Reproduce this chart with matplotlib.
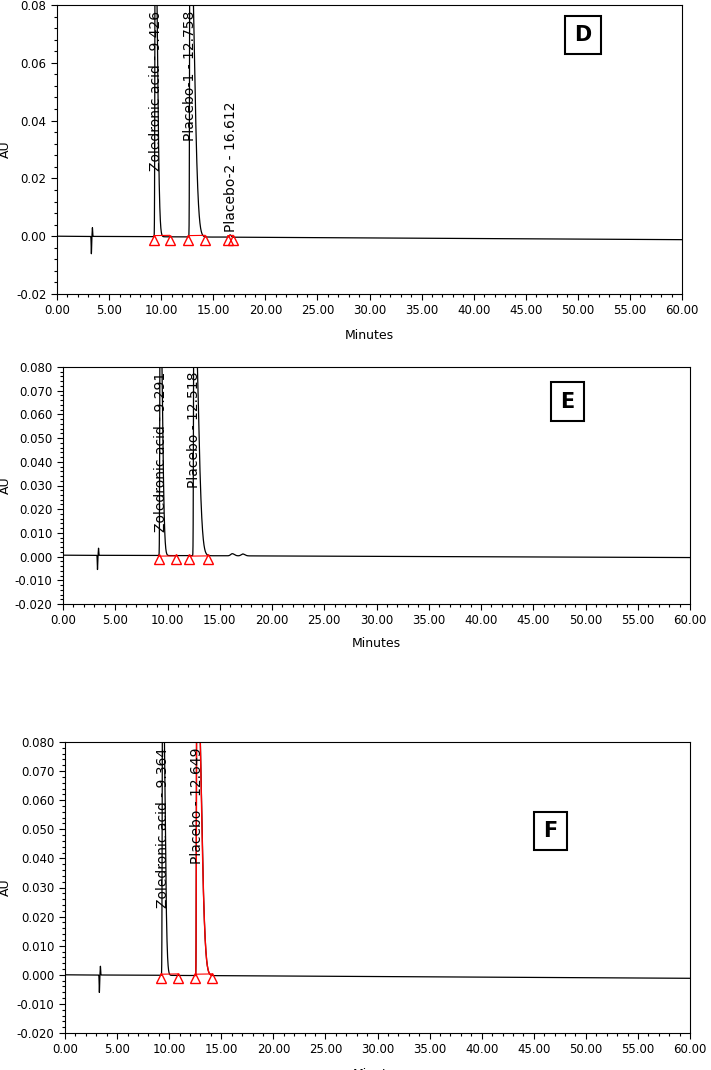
import numpy as np
import matplotlib
matplotlib.use("Agg")
import matplotlib.pyplot as plt

# Peak tables: retention time, height (AU)
D_rt = [9.426, 12.758, 16.612]
D_h = [0.12, 0.12, 0.0008]
D_lbl = ["Zoledronic acid - 9.426", "Placebo-1 - 12.758", "Placebo-2 - 16.612"]
D_marks = [9.3, 10.8, 12.6, 14.2, 16.4, 16.9]

E_rt = [9.291, 12.518]
E_h = [0.12, 0.12]
E_lbl = ["Zoledronic acid - 9.291", "Placebo - 12.518"]
E_marks = [9.2, 10.8, 12.1, 13.9]
E_small_rt = [16.2, 17.2]
E_small_h = [0.0009, 0.0008]

F_rt = [9.364, 12.649]
F_h = [0.12, 0.12]
F_lbl = ["Zoledronic acid - 9.364", "Placebo - 12.649"]
F_marks = [9.2, 10.8, 12.5, 14.1]

# baseline drift (start, end) AU
D_base = [0.0, -0.0012]
E_base = [0.0006, -0.0004]
F_base = [0.0, -0.0012]

fig = plt.figure(figsize=(7.11, 10.70), dpi=100)
W, H = 711, 1070

def peak(t, rt, h, wl, wr):
    y = np.zeros_like(t)
    left = t < rt
    y[left] = h*np.exp(-0.5*((t[left]-rt)/wl)**2)
    right = ~left
    y[right] = h*np.exp(-0.5*((t[right]-rt)/wr)**2)
    return y

def panel(rect, rts, hs, lbls, marks, base, ylim, yticks, yfmt, letter, lrect,
          red_idx=None, small=None):
    l, t, r, b = rect
    ax = fig.add_axes([l/W, 1-b/H, (r-l)/W, (b-t)/H])
    tt = np.linspace(0, 60, 12001)
    bl = base[0] + (base[1]-base[0])*tt/60
    y = bl.copy()
    for i, (rt, h) in enumerate(zip(rts, hs)):
        if h > 0.01:
            wr = 0.2 if i == 0 else 0.38
            y += peak(tt, rt, h, 0.03, wr)
        else:
            y += peak(tt, rt, h, 0.08, 0.1)
    if small:
        for rt, h in zip(*small):
            y += peak(tt, rt, h, 0.15, 0.2)
    y += peak(tt, 3.3, -0.006, 0.02, 0.02) + peak(tt, 3.4, 0.003, 0.02, 0.02)
    ax.plot(tt, y, color="black", lw=0.9)
    if red_idx is not None:
        m = (tt > marks[2]) & (tt < marks[3])
        ax.plot(tt[m], y[m], color="red", lw=1.0)
    for i in range(0, len(marks)-1, 2):
        ax.plot([marks[i], marks[i+1]], [0.0002, 0.0003], color="red", lw=0.8)
    off = (ylim[1]-ylim[0])*0.012
    ax.plot(marks, [0.0-off]*len(marks), ls="none", marker="^", ms=7,
            mfc="none", mec="red", mew=1.0)
    for rt, lb, h in zip(rts, lbls, hs):
        ytop = ylim[1] - (ylim[1]-ylim[0])*0.02
        if h > 0.01:
            ax.text(rt + 0.05, ytop, lb, rotation=90, ha="center", va="top", fontsize=10)
        else:
            ax.text(rt + 0.05, 0.0015, lb, rotation=90, ha="center", va="bottom", fontsize=10)
    ax.set_xlim(0, 60)
    ax.set_ylim(*ylim)
    ax.set_xticks(np.arange(0, 60.01, 5))
    ax.set_xticklabels([f"{v:.2f}" for v in np.arange(0, 60.01, 5)], fontsize=8.5)
    ax.set_xticks(np.arange(0, 60.01, 1), minor=True)
    ax.set_yticks(yticks)
    ax.set_yticklabels([yfmt.format(v) for v in yticks], fontsize=8.5)
    ax.set_yticks(np.arange(ylim[0], ylim[1]+1e-9, (yticks[1]-yticks[0])/5), minor=True)
    ax.tick_params(direction="out", length=4, width=0.8)
    ax.tick_params(which="minor", direction="out", length=2.5, width=0.8)
    ax.set_xlabel("Minutes", fontsize=9)
    ax.set_ylabel("AU", fontsize=9)
    ax.xaxis.set_label_coords(0.5, -26/(b-t) - 0.03)
    ax.yaxis.set_label_coords((12 - l)/(r-l), 0.5)
    L, T, R, B = lrect
    fig.text((L+R)/2/W, 1-(T+B)/2/H, letter, ha="center", va="center", fontsize=15,
             fontweight="bold",
             bbox=dict(boxstyle="square,pad=0.45", fc="white", ec="black", lw=1.5))
    return ax

panel((57, 5, 682, 294), D_rt, D_h, D_lbl, D_marks, D_base, (-0.02, 0.08),
      np.arange(-0.02, 0.0801, 0.02), "{:.2f}", "D", (555, 15, 610, 55))
panel((63, 367, 690, 604), E_rt, E_h, E_lbl, E_marks, E_base, (-0.02, 0.08),
      np.arange(-0.02, 0.0801, 0.01), "{:.3f}", "E", (542, 383, 592, 420),
      small=(E_small_rt, E_small_h))
panel((65, 742, 690, 1033), F_rt, F_h, F_lbl, F_marks, F_base, (-0.02, 0.08),
      np.arange(-0.02, 0.0801, 0.01), "{:.3f}", "F", (522, 812, 578, 850), red_idx=1)

fig.savefig("out.png", dpi=100)
